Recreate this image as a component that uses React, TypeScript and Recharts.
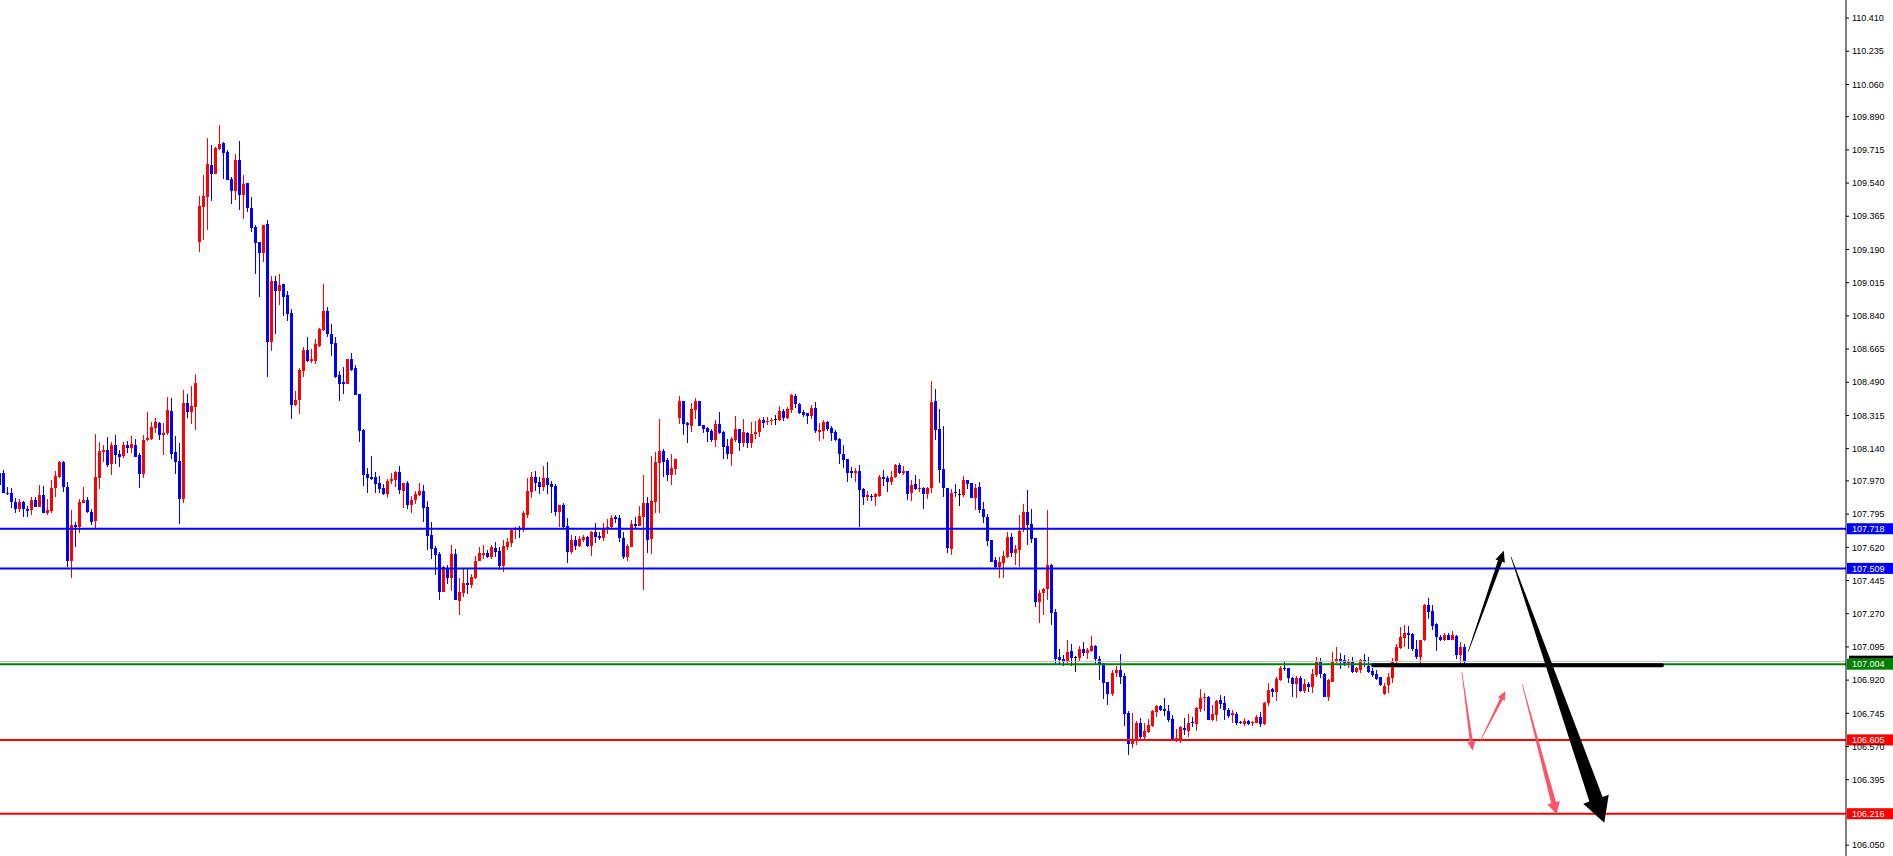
import { Bar, ComposedChart, ReferenceLine, XAxis, YAxis } from 'recharts'

// OHLC per candle (c1..c367)
const opens = [
  108.010,108.010,107.908,107.904,107.860,107.820,107.857,107.820,107.817,107.869,
  107.834,107.896,107.799,107.813,107.931,107.992,108.071,107.936,107.550,107.738,
  107.729,107.855,107.869,107.804,107.760,107.987,108.124,108.133,108.059,108.159,
  108.112,108.101,108.159,108.142,108.159,108.107,108.006,108.186,108.189,108.247,
  108.277,108.212,108.221,108.339,108.124,108.075,107.875,108.379,108.335,108.361,
  109.231,109.416,109.468,109.635,109.588,109.718,109.753,109.706,109.562,109.500,
  109.662,109.477,109.539,109.410,109.310,109.231,109.170,109.323,108.701,109.022,
  108.969,109.006,108.948,108.853,108.369,108.395,108.548,108.659,108.603,108.603,
  108.683,108.764,108.867,108.747,108.696,108.530,108.489,108.480,108.611,108.563,
  108.428,108.238,108.007,107.989,107.989,107.958,107.934,107.902,107.971,107.976,
  108.017,107.917,107.958,107.843,107.871,107.897,107.915,107.834,107.685,107.616,
  107.583,107.386,107.509,107.459,107.583,107.339,107.380,107.432,107.422,107.459,
  107.546,107.581,107.592,107.571,107.614,107.600,107.521,107.623,107.644,107.711,
  107.720,107.711,107.790,107.913,107.992,107.966,107.940,107.987,107.954,107.943,
  107.808,107.843,107.732,107.597,107.658,107.627,107.658,107.672,107.627,107.702,
  107.679,107.671,107.716,107.725,107.781,107.773,107.667,107.571,107.623,107.743,
  107.732,107.781,107.852,107.664,107.860,108.066,108.127,108.080,108.001,108.033,
  108.300,108.391,108.277,108.259,108.344,108.391,108.265,108.251,108.233,108.186,
  108.270,108.230,108.154,108.112,108.186,108.244,108.171,108.224,108.171,108.215,
  108.229,108.291,108.282,108.286,108.295,108.291,108.338,108.303,108.344,108.418,
  108.375,108.335,108.326,108.312,108.352,108.229,108.233,108.282,108.247,108.229,
  108.191,108.112,108.085,108.022,108.013,108.022,107.926,107.887,107.892,107.883,
  107.890,107.992,107.987,107.966,107.992,108.054,108.013,108.022,107.908,107.954,
  107.926,107.934,107.899,107.931,108.391,108.244,108.033,107.934,107.611,107.913,
  107.901,107.895,107.974,107.960,107.881,107.939,107.822,107.781,107.658,107.553,
  107.518,107.539,107.570,107.676,107.591,107.605,107.711,107.807,107.742,107.667,
  107.333,107.377,107.402,107.526,107.280,107.040,107.034,107.017,107.073,107.043,
  107.038,107.083,107.064,107.073,107.099,107.034,107.008,106.911,106.846,106.955,
  106.973,106.943,106.748,106.583,106.604,106.695,106.621,106.646,106.680,106.753,
  106.783,106.768,106.757,106.713,106.604,106.604,106.669,106.653,106.701,106.688,
  106.768,106.824,106.833,106.710,106.736,106.815,106.801,106.762,106.736,106.741,
  106.701,106.688,106.706,106.692,106.696,106.727,106.688,106.797,106.871,106.859,
  106.920,106.985,106.982,106.933,106.898,106.929,106.864,106.898,106.885,106.947,
  107.014,106.952,106.833,106.912,107.014,107.031,107.026,107.008,107.017,106.964,
  106.973,107.026,106.996,106.969,106.952,106.934,106.846,106.894,106.929,107.013,
  107.092,107.143,107.170,107.161,107.082,107.043,107.131,107.315,107.284,107.215,
  107.149,107.131,107.157,107.134,107.154,107.052,107.096,
]

const highs = [
  108.027,108.027,107.940,107.931,107.878,107.873,107.864,107.838,107.887,107.887,
  107.948,107.943,107.875,107.975,108.024,108.077,108.077,107.962,107.817,107.755,
  107.873,107.940,107.887,107.822,108.217,108.177,108.159,108.203,108.177,108.212,
  108.133,108.177,108.182,108.207,108.189,108.115,108.212,108.335,108.282,108.300,
  108.282,108.277,108.414,108.409,108.207,108.172,108.449,108.428,108.470,108.534,
  109.472,109.583,109.779,109.741,109.732,109.846,109.758,109.714,109.574,109.693,
  109.762,109.583,109.542,109.467,109.317,109.231,109.317,109.347,109.052,109.052,
  109.059,109.006,108.969,108.877,108.443,108.567,108.677,108.731,108.668,108.720,
  108.775,109.009,108.886,108.797,108.731,108.548,108.572,108.611,108.642,108.579,
  108.428,108.244,108.037,108.100,108.017,107.995,107.952,107.982,108.013,108.022,
  108.050,107.958,107.971,107.888,107.915,107.958,107.948,107.865,107.751,107.626,
  107.598,107.520,107.528,107.631,107.611,107.459,107.505,107.505,107.478,107.576,
  107.622,107.632,107.606,107.632,107.650,107.620,107.658,107.671,107.720,107.729,
  107.732,107.811,107.987,108.017,108.024,107.992,108.049,108.070,107.969,107.954,
  107.843,107.852,107.776,107.683,107.679,107.679,107.683,107.679,107.706,107.750,
  107.702,107.750,107.769,107.790,107.790,107.790,107.702,107.637,107.764,107.778,
  107.838,108.001,107.887,108.101,108.124,108.296,108.138,108.092,108.112,108.085,
  108.418,108.391,108.282,108.382,108.407,108.391,108.265,108.256,108.242,108.291,
  108.335,108.233,108.189,108.200,108.312,108.244,108.296,108.229,108.282,108.287,
  108.300,108.309,108.309,108.300,108.316,108.365,108.349,108.358,108.428,108.428,
  108.379,108.344,108.330,108.370,108.388,108.273,108.291,108.287,108.259,108.238,
  108.194,108.159,108.085,108.045,108.036,108.054,107.931,107.918,107.901,107.908,
  108.001,108.027,107.996,108.022,108.057,108.062,108.049,108.024,107.975,108.001,
  107.978,107.940,107.940,108.497,108.454,108.349,108.259,107.934,107.925,107.953,
  107.930,107.995,107.974,107.960,107.953,107.965,107.860,107.795,107.658,107.567,
  107.570,107.600,107.702,107.693,107.632,107.793,107.848,107.922,107.821,107.667,
  107.395,107.407,107.816,107.532,107.294,107.083,107.052,107.131,107.113,107.048,
  107.101,107.120,107.092,107.152,107.104,107.047,107.011,106.911,106.976,106.994,
  107.057,106.955,106.758,106.748,106.706,106.723,106.692,106.713,106.762,106.787,
  106.789,106.824,106.789,106.736,106.662,106.678,106.718,106.741,106.727,106.780,
  106.871,106.854,106.836,106.789,106.815,106.841,106.836,106.771,106.762,106.753,
  106.704,106.718,106.710,106.706,106.736,106.753,106.806,106.906,106.880,106.938,
  106.996,107.021,106.985,106.938,106.942,106.942,106.926,106.908,106.978,107.040,
  107.035,106.955,106.926,107.066,107.093,107.061,107.052,107.031,107.040,106.990,
  107.029,107.057,107.043,106.982,106.976,106.938,106.903,106.955,107.035,107.113,
  107.201,107.210,107.205,107.166,107.131,107.131,107.321,107.351,107.315,107.219,
  107.157,107.166,107.166,107.178,107.157,107.122,107.110,
]

const lows = [
  107.940,107.904,107.896,107.825,107.803,107.808,107.778,107.781,107.790,107.831,
  107.831,107.799,107.788,107.803,107.887,107.987,107.913,107.514,107.456,107.620,
  107.694,107.855,107.799,107.738,107.715,107.926,108.071,108.045,108.001,108.059,
  108.045,108.089,108.119,108.115,108.095,107.934,107.987,108.182,108.186,108.221,
  108.186,108.107,108.212,108.084,108.006,107.743,107.855,108.303,108.270,108.238,
  109.178,109.240,109.293,109.447,109.588,109.714,109.562,109.556,109.430,109.451,
  109.398,109.351,109.389,109.281,109.059,108.941,109.126,108.520,108.653,108.747,
  108.895,108.838,108.812,108.295,108.364,108.321,108.520,108.598,108.590,108.585,
  108.677,108.760,108.731,108.626,108.515,108.391,108.428,108.480,108.552,108.423,
  108.173,107.943,107.906,107.976,107.908,107.906,107.897,107.878,107.952,107.937,
  107.902,107.829,107.823,107.801,107.847,107.893,107.755,107.607,107.561,107.472,
  107.340,107.384,107.426,107.391,107.345,107.262,107.358,107.376,107.408,107.454,
  107.546,107.556,107.562,107.556,107.567,107.500,107.491,107.606,107.623,107.662,
  107.667,107.702,107.773,107.882,107.918,107.899,107.918,107.901,107.803,107.787,
  107.729,107.720,107.539,107.585,107.606,107.623,107.650,107.623,107.574,107.644,
  107.658,107.655,107.690,107.720,107.750,107.650,107.556,107.549,107.623,107.715,
  107.732,107.395,107.592,107.585,107.803,107.803,107.989,107.971,107.948,108.001,
  108.270,108.212,108.172,108.229,108.296,108.259,108.221,108.177,108.177,108.150,
  108.217,108.085,108.085,108.049,108.177,108.128,108.150,108.145,108.145,108.189,
  108.200,108.251,108.265,108.265,108.265,108.287,108.286,108.295,108.326,108.356,
  108.323,108.309,108.270,108.296,108.224,108.180,108.189,108.233,108.182,108.180,
  108.059,108.036,107.966,107.983,107.966,107.729,107.843,107.866,107.866,107.838,
  107.887,107.945,107.913,107.948,107.987,108.006,108.001,107.869,107.866,107.922,
  107.913,107.822,107.875,107.904,108.186,107.961,107.887,107.592,107.579,107.883,
  107.837,107.886,107.930,107.878,107.816,107.802,107.746,107.628,107.544,107.509,
  107.460,107.460,107.565,107.567,107.526,107.518,107.702,107.632,107.644,107.307,
  107.219,107.263,107.345,107.210,107.004,107.004,106.994,107.008,106.994,106.964,
  107.020,107.047,107.029,107.066,107.004,106.920,106.820,106.788,106.836,106.938,
  106.899,106.678,106.525,106.560,106.577,106.607,106.607,106.639,106.674,106.727,
  106.759,106.731,106.701,106.604,106.595,106.590,106.631,106.622,106.674,106.652,
  106.753,106.759,106.710,106.706,106.706,106.768,106.710,106.718,106.692,106.683,
  106.687,106.680,106.683,106.680,106.692,106.674,106.685,106.785,106.833,106.810,
  106.917,106.968,106.906,106.833,106.824,106.859,106.850,106.855,106.854,106.934,
  106.929,106.829,106.812,106.912,107.008,106.977,106.994,106.982,106.955,106.959,
  106.959,106.990,106.955,106.938,106.920,106.890,106.841,106.853,106.903,107.000,
  107.083,107.096,107.082,107.075,107.034,106.990,107.127,107.240,107.184,107.075,
  107.127,107.127,107.131,107.131,107.029,107.008,107.008,
]

const closes = [
  107.948,107.908,107.901,107.860,107.820,107.860,107.820,107.813,107.869,107.834,
  107.896,107.799,107.817,107.931,107.996,108.071,107.936,107.550,107.738,107.729,
  107.860,107.869,107.804,107.755,107.992,108.129,108.133,108.054,108.159,108.107,
  108.098,108.159,108.142,108.165,108.098,108.006,108.186,108.194,108.252,108.282,
  108.212,108.224,108.344,108.112,108.071,107.873,108.382,108.335,108.365,108.484,
  109.419,109.472,109.641,109.588,109.723,109.746,109.700,109.556,109.500,109.662,
  109.477,109.535,109.407,109.305,109.225,109.170,109.317,108.701,109.022,108.969,
  109.004,108.941,108.849,108.369,108.395,108.554,108.659,108.603,108.613,108.692,
  108.769,108.867,108.742,108.690,108.520,108.483,108.480,108.611,108.557,108.423,
  108.232,108.000,107.985,107.982,107.954,107.926,107.902,107.971,107.982,108.018,
  107.924,107.958,107.843,107.871,107.899,107.915,107.829,107.681,107.613,107.579,
  107.386,107.515,107.459,107.585,107.345,107.386,107.432,107.422,107.465,107.546,
  107.592,107.592,107.571,107.623,107.597,107.521,107.627,107.648,107.711,107.720,
  107.711,107.799,107.918,107.992,107.961,107.940,107.987,107.948,107.940,107.808,
  107.843,107.729,107.597,107.658,107.627,107.662,107.672,107.627,107.702,107.676,
  107.667,107.720,107.729,107.776,107.767,107.667,107.571,107.627,107.743,107.732,
  107.785,107.852,107.658,107.864,108.068,108.129,108.071,108.001,108.040,108.085,
  108.391,108.270,108.266,108.349,108.391,108.259,108.244,108.229,108.186,108.270,
  108.221,108.150,108.112,108.191,108.244,108.171,108.229,108.171,108.215,108.229,
  108.291,108.277,108.287,108.291,108.295,108.338,108.303,108.347,108.423,108.374,
  108.330,108.317,108.312,108.352,108.233,108.238,108.282,108.244,108.224,108.186,
  108.112,108.080,108.013,108.013,108.022,107.922,107.887,107.896,107.883,107.899,
  107.992,107.982,107.966,107.992,108.054,108.013,108.024,107.901,107.948,107.926,
  107.934,107.899,107.934,108.388,108.238,108.027,107.931,107.618,107.909,107.904,
  107.901,107.974,107.953,107.881,107.934,107.816,107.781,107.655,107.544,107.518,
  107.544,107.574,107.676,107.591,107.609,107.707,107.807,107.737,107.663,107.333,
  107.380,107.402,107.526,107.275,107.031,107.026,107.017,107.066,107.038,107.043,
  107.083,107.064,107.078,107.099,107.031,107.004,106.906,106.846,106.959,106.973,
  106.938,106.744,106.583,106.604,106.695,106.618,106.653,106.683,106.757,106.783,
  106.762,106.759,106.710,106.604,106.613,106.674,106.657,106.695,106.692,106.775,
  106.827,106.833,106.710,106.741,106.810,106.794,106.762,106.731,106.748,106.692,
  106.692,106.704,106.687,106.701,106.727,106.688,106.801,106.868,106.859,106.926,
  106.985,106.977,106.929,106.898,106.929,106.864,106.898,106.885,106.950,107.014,
  106.950,106.833,106.920,107.021,107.031,107.021,107.008,107.021,106.964,106.982,
  107.026,107.013,106.964,106.947,106.925,106.894,106.890,106.938,107.017,107.096,
  107.149,107.170,107.157,107.082,107.043,107.131,107.315,107.280,107.205,107.145,
  107.131,107.157,107.134,107.157,107.052,107.096,107.017,
]

const priceTicks = [
  '110.410', '110.235', '110.060', '109.890', '109.715', '109.540', '109.365', '109.190',
  '109.015', '108.840', '108.665', '108.490', '108.315', '108.140', '107.970', '107.795',
  '107.620', '107.445', '107.270', '107.095', '106.920', '106.745', '106.570', '106.395',
  '106.050',
]

// horizontal levels drawn on the chart
const resistanceLevels = [107.718, 107.509]
const pivotLevel = 107.004
const bidLevel = 107.019
const supportLevels = [106.605, 106.216]

// hand-drawn arrows in (candle index, price)
const blackUp = [{ x: 368.1, y: 107.07 }, { x: 377.0, y: 107.602 }]
const blackDown = [{ x: 378.8, y: 107.57 }, { x: 402.1, y: 106.168 }]
const pinkDown1 = [{ x: 366.5, y: 106.964 }, { x: 369.2, y: 106.548 }]
const pinkUp = [{ x: 371.0, y: 106.595 }, { x: 377.4, y: 106.863 }]
const pinkDown2 = [{ x: 381.6, y: 106.899 }, { x: 390.2, y: 106.213 }]
const blackFlat = [{ x: 344.3, y: 106.998 }, { x: 416.5, y: 106.998 }]

const SLOTS = 462
const RED = '#FF0000'
const BLUE = '#0000FF'
const PINK = '#FF5468'
const AXIS_FONT = 'Liberation Sans, Arial, sans-serif'

const rows = Array.from({ length: SLOTS }, (_, i) =>
  i < opens.length
    ? { idx: i + 1, o: opens[i], h: highs[i], l: lows[i], c: closes[i], range: [lows[i], highs[i]] }
    : { idx: i + 1 },
)

function Candle(props: any) {
  const { x, y, width, height, payload } = props
  if (!payload || payload.o == null || !Number.isFinite(y)) return null
  const { o, h, l, c } = payload
  const top = Math.min(y, y + height)
  const span = Math.abs(height)
  const ppu = h > l ? span / (h - l) : 0
  const cx = Math.round(x + width / 2) + 0.5
  const bTop = top + (h - Math.max(o, c)) * ppu
  const bBot = top + (h - Math.min(o, c)) * ppu
  const color = c > o ? RED : c < o ? BLUE : '#000'
  return (
    <g shapeRendering="crispEdges">
      <line x1={cx} x2={cx} y1={top} y2={top + span} stroke={color} strokeWidth={1} />
      <rect x={cx - 1.5} y={bTop} width={3} height={Math.max(1, bBot - bTop)} fill={color} />
    </g>
  )
}

function arrowShape(color: string, w0: number, w1: number, headW: number, headL: number) {
  return (props: any) => {
    const { x1, y1, x2, y2 } = props
    const dx = x2 - x1
    const dy = y2 - y1
    const len = Math.hypot(dx, dy) || 1
    const ux = dx / len
    const uy = dy / len
    const nx = -uy
    const ny = ux
    const bx = x2 - ux * headL
    const by = y2 - uy * headL
    const pts = [
      [x1 + (nx * w0) / 2, y1 + (ny * w0) / 2],
      [bx + (nx * w1) / 2, by + (ny * w1) / 2],
      [bx + (nx * headW) / 2, by + (ny * headW) / 2],
      [x2, y2],
      [bx - (nx * headW) / 2, by - (ny * headW) / 2],
      [bx - (nx * w1) / 2, by - (ny * w1) / 2],
      [x1 - (nx * w0) / 2, y1 - (ny * w0) / 2],
    ]
    return <polygon points={pts.map((p) => p.join(',')).join(' ')} fill={color} />
  }
}

function priceTag(value: number, bg: string, withBidMark = false) {
  return (props: any) => {
    const vb = props.viewBox
    if (!vb) return null
    const bx = vb.x + vb.width + 1
    const cy = vb.y
    return (
      <g>
        {withBidMark ? <rect x={bx + 2} y={cy - 8.5} width={44} height={3} fill="#000" /> : null}
        <rect x={bx} y={cy - 5.5} width={46} height={11} fill={bg} />
        <text x={bx + 5} y={cy + 3.3} fill="#fff" fontSize={9} fontFamily={AXIS_FONT}>
          {value.toFixed(3)}
        </text>
      </g>
    )
  }
}

export default function App() {
  return (
    <div style={{ position: 'relative', width: 1893, height: 856, overflow: 'hidden', background: '#fff' }}>
      <style>{'body{margin:0;overflow:hidden}'}</style>
      <div style={{ position: 'absolute', left: -3, top: 0 }}>
        <ComposedChart width={1896} height={856} data={rows} margin={{ top: 0, right: 0, bottom: 0, left: 0 }}>
          <XAxis xAxisId="c" dataKey="idx" hide />
          <XAxis xAxisId="n" dataKey="idx" type="number" domain={[0.5, SLOTS + 0.5]} allowDataOverflow hide />
          <YAxis
            yAxisId="p"
            orientation="right"
            width={47}
            domain={[105.993, 110.505]}
            allowDataOverflow
            ticks={priceTicks.map(Number)}
            interval={0}
            tickFormatter={(v: number) => v.toFixed(3)}
            tick={{ fill: '#000', fontSize: 9, fontFamily: AXIS_FONT }}
            tickSize={3}
            tickMargin={3}
            axisLine={{ stroke: '#000' }}
            tickLine={{ stroke: '#000' }}
          />
          <ReferenceLine xAxisId="n" yAxisId="p" y={bidLevel} stroke="#C0C0C0" strokeWidth={1} />
          <Bar xAxisId="c" yAxisId="p" dataKey="range" shape={Candle} isAnimationActive={false} />
          {resistanceLevels.map((lv) => (
            <ReferenceLine key={lv} xAxisId="n" yAxisId="p" y={lv} stroke={BLUE} strokeWidth={2} label={priceTag(lv, BLUE)} />
          ))}
          <ReferenceLine
            xAxisId="n"
            yAxisId="p"
            y={pivotLevel}
            stroke="#008000"
            strokeWidth={2}
            label={priceTag(pivotLevel, '#008000', true)}
          />
          {supportLevels.map((lv) => (
            <ReferenceLine key={lv} xAxisId="n" yAxisId="p" y={lv} stroke={RED} strokeWidth={2} label={priceTag(lv, RED)} />
          ))}
          <ReferenceLine xAxisId="n" yAxisId="p" segment={blackFlat} stroke="#000" strokeWidth={4} strokeLinecap="round" />
          <ReferenceLine xAxisId="n" yAxisId="p" segment={pinkDown1} shape={arrowShape(PINK, 0.6, 3, 8, 9)} />
          <ReferenceLine xAxisId="n" yAxisId="p" segment={pinkUp} shape={arrowShape(PINK, 0.6, 3, 8, 9)} />
          <ReferenceLine xAxisId="n" yAxisId="p" segment={pinkDown2} shape={arrowShape(PINK, 0.6, 5, 13, 12)} />
          <ReferenceLine xAxisId="n" yAxisId="p" segment={blackUp} shape={arrowShape('#000', 0.6, 4.5, 10, 11)} />
          <ReferenceLine xAxisId="n" yAxisId="p" segment={blackDown} shape={arrowShape('#000', 0.6, 14, 27, 25)} />
        </ComposedChart>
      </div>
    </div>
  )
}
